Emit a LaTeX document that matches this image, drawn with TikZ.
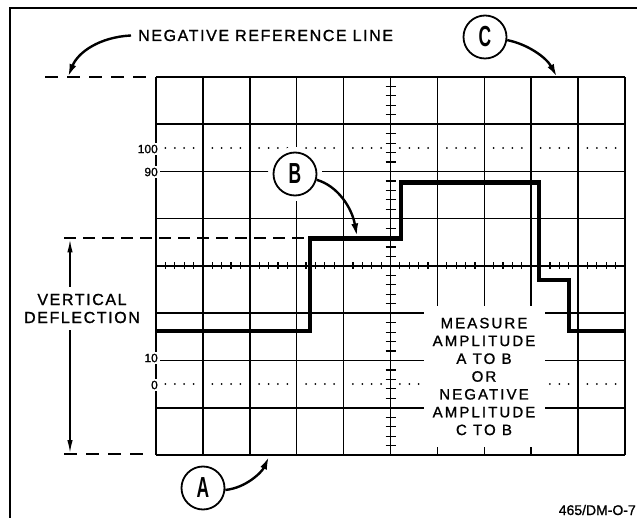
\documentclass[tikz,border=0pt]{standalone}
\usepackage{fontspec}
\setmainfont{Liberation Sans}
\newfontfamily\labfont{Liberation Sans}[LetterSpace=10, FakeBold=1.2]
\newfontfamily\boxfont{Liberation Sans}[LetterSpace=14, FakeBold=1.2]
\newfontfamily\plainfont{Liberation Sans}[FakeBold=1.2]
\usepackage{graphicx}
\usetikzlibrary{arrows.meta}
\tikzset{
 gridline/.style={line width=1.5pt},
 tickline/.style={line width=1.2pt},
 wave/.style={line width=4.5pt, line join=miter},
 dashline/.style={line width=2pt, dash pattern=on 12pt off 7pt},
 refdash/.style={line width=2pt, dash pattern=on 13pt off 9pt},
 callout/.style={line width=2.4pt, -{Latex[length=13pt,width=7pt]}},
 dimarrow/.style={line width=1.5pt, -{Latex[length=13pt,width=5.5pt]}},
 circlab/.style={circle, draw, line width=1.8pt, fill=white, minimum size=43pt, inner sep=0pt, font=\fontsize{29}{29}\selectfont\bfseries},
 halo/.style={preaction={draw=white, line width=11pt}},
 numlab/.style={fill=white, inner xsep=2pt, inner ysep=1.5pt, font=\plainfont\fontsize{12}{14}\selectfont, anchor=east},
}
\begin{document}
\begin{tikzpicture}[x=1pt,y=-1pt]
\useasboundingbox (0,0) rectangle (637,518);
% frame
\draw[line width=2pt] (637,8.5) -- (10,8.5) -- (10,518);
% graticule
\foreach \i in {0,...,10} \draw[gridline] ({156+46.9*\i},77) -- ({156+46.9*\i},455);
\foreach \j in {0,...,8} \draw[gridline] (156,{77+47.25*\j}) -- (625,{77+47.25*\j});
\foreach \k in {1,...,49} \draw[tickline] ({156+9.38*\k},262.5) -- ++(0,7);
\foreach \k in {1,...,39} \draw[tickline] (385.5,{77+9.45*\k}) -- ++(10,0);
\foreach \i in {0,...,9} {\foreach \f in {0.2,0.4,0.6,0.8} {
  \fill ({156+46.9*(\i+\f)},148) circle (1pt);
  \fill ({156+46.9*(\i+\f)},384) circle (1pt);}}
% scale labels
\node[numlab] (l100) at (160,149) {100};
\node[numlab] (l90) at (160,172) {90};
\node[numlab] (l10) at (160,358) {10};
\node[numlab] (l0) at (160,385) {0};
% text box
\node[fill=white, minimum width=121pt, minimum height=141pt, inner sep=0pt, align=center,
  font=\boxfont\fontsize{15}{17.8}\selectfont] (msr) at (484,376.5)
  {MEASURE\\AMPLITUDE\\A TO B\\OR\\NEGATIVE\\AMPLITUDE\\C TO B};
% waveform
\draw[wave] (156,331) -- (310,331) -- (310,238.5) -- (401,238.5) -- (401,182.5)
  -- (539,182.5) -- (539,280) -- (569,280) -- (569,331) -- (625,331);
% dashed reference lines
\coordinate (nrL) at (45,77); \coordinate (nrR) at (150,77);
\coordinate (bL) at (64,238.5); \coordinate (bR) at (310,238.5);
\coordinate (aL) at (64,454); \coordinate (aR) at (150,454);
\draw[refdash] (nrL) -- (nrR);
\draw[dashline] (bL) -- (bR);
\draw[refdash] (aL) -- (aR);
% vertical deflection
\node[font=\labfont\fontsize{16}{18}\selectfont, align=center, inner xsep=0pt, inner ysep=7pt] (vdef) at (82,308.5) {VERTICAL\\DEFLECTION};
\coordinate (dT) at (70,239.5); \coordinate (dB) at (70,453);
\draw[dimarrow] (vdef.north -| dT) -- (dT);
\draw[dimarrow] (vdef.south -| dB) -- (dB);
% labels and callouts
\node[font=\labfont\fontsize{16}{18}\selectfont, anchor=base west, inner sep=0pt] (neg) at (138,41) {NEGATIVE REFERENCE LINE};
\coordinate (negtip) at (68,77);
\draw[callout] ([xshift=-7pt]neg.west) .. controls (100,37) and (78,52) .. (negtip);
\node[circlab] (cC) at (485,37) {\scalebox{0.6}[1]{C}};
\coordinate (Ctip) at (557,77);
\draw[callout] (cC.-8) .. controls (527,44) and (546,57) .. (Ctip);
\node[circlab, halo] (cB) at (295,174) {\scalebox{0.6}[1]{B}};
\coordinate (Btip) at (357,236.5);
\draw[callout] (cB.-15) .. controls (338,186) and (352,208) .. (Btip);
\node[circlab] (cA) at (203,488) {\scalebox{0.6}[1]{A}};
\coordinate (Atip) at (269,456.5);
\draw[callout] (cA.-5) .. controls (246,488) and (262,472) .. (Atip);
\node[font=\plainfont\fontsize{14}{16}\selectfont, anchor=base east, inner sep=0pt] (code) at (636,515) {465/DM-O-7};
\end{tikzpicture}
\end{document}
